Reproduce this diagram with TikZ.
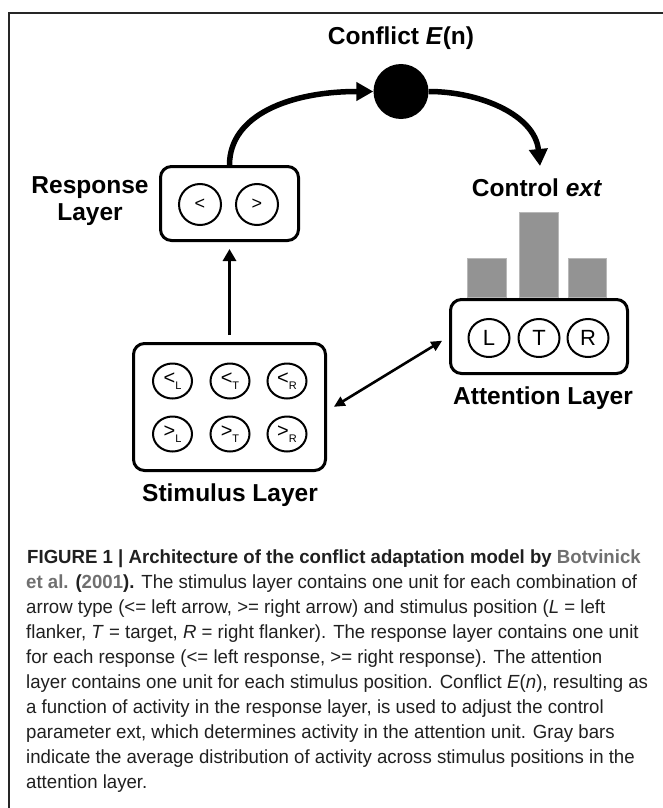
\documentclass[tikz,border=0pt]{standalone}
\usepackage{fontspec}
\setmainfont{Liberation Sans}
\newfontfamily\capfont[FakeStretch=0.98]{Liberation Sans}
\usetikzlibrary{arrows.meta,shapes.geometric}
\definecolor{bargray}{HTML}{939393}
\definecolor{barline}{HTML}{B8B8B8}
\definecolor{refgray}{HTML}{707070}
\definecolor{captext}{HTML}{202020}
\begin{document}
\begin{tikzpicture}[x=1pt,y=-1pt,
  layerbox/.style={draw, line width=3pt, rounded corners=11pt, inner sep=0pt},
  unitell/.style={draw, ellipse, line width=2pt, inner sep=0pt},
  runit/.style={unitell, minimum width=42pt, minimum height=41pt, font=\fontsize{18}{18}\selectfont},
  aunit/.style={unitell, minimum width=41pt, minimum height=38pt, font=\fontsize{22}{22}\selectfont},
  sunit/.style={unitell, minimum width=39pt, minimum height=35pt, font=\fontsize{20}{20}\selectfont},
  lbl/.style={font=\fontsize{24.5}{28}\selectfont\bfseries, align=center, inner sep=0pt},
  bigarrow/.style={line width=5.5pt, -{Triangle[length=17pt,width=18pt]}},
  medarrow/.style={line width=3.3pt, -{Triangle[length=12pt,width=13pt]}, shorten <=7pt, shorten >=7pt},
  dblarrow/.style={line width=2.6pt, {Triangle[length=11pt,width=10pt]}-{Triangle[length=11pt,width=10pt]}, shorten <=8pt, shorten >=8pt},
  bar/.style={fill=bargray, draw=barline, line width=0.8pt},
  capline/.style={anchor=base west, inner sep=0pt, font=\capfont\fontsize{19}{25}\selectfont, text=captext}
]
\useasboundingbox (0,0) rectangle (662,808);
% frame
\draw[line width=2.6pt, color=black!85] (9,812) -- (9,13) -- (666,13);

% conflict
\node[circle, fill=black, minimum size=55pt, inner sep=0pt] (conf) at (401,91.5) {};
\node[lbl] (conflbl) at (401,38) {Conflict \textit{E}(n)};

% response layer
\node[layerbox, minimum width=138pt, minimum height=74pt] (resp) at (229.5,203.5) {};
\node[runit] (rl) at (200,204.5) {<};
\node[runit] (rr) at (257,204.5) {>};
\node[lbl] (resplbl) at (90,201) {Response\\[-1pt]Layer};

% control label and bars
\node[lbl] (ctrllbl) at (537,188) {Control \textit{ext}};
\draw[bar] (467,258) rectangle (506,297);
\draw[bar] (519,212) rectangle (558,297);
\draw[bar] (568,258) rectangle (606,297);

% attention layer
\node[layerbox, fill=white, minimum width=177pt, minimum height=74pt] (att) at (539,336.5) {};
\node[aunit] (al) at (489,338) {L};
\node[aunit] (at) at (539,338) {T};
\node[aunit] (ar) at (588,338) {R};
\node[lbl] (attlbl) at (543,398) {Attention Layer};

% stimulus layer
\node[layerbox, minimum width=192pt, minimum height=127pt] (stim) at (229.5,407) {};
\newcommand{\sub}[1]{\raisebox{-5pt}{\fontsize{11}{11}\selectfont #1}}
\node[sunit] (s1) at (172.5,381) {<\sub{L}};
\node[sunit] (s2) at (230,381) {<\sub{T}};
\node[sunit] (s3) at (287,381) {<\sub{R}};
\node[sunit] (s4) at (172.5,434) {>\sub{L}};
\node[sunit] (s5) at (230,434) {>\sub{T}};
\node[sunit] (s6) at (287,434) {>\sub{R}};
\node[lbl] (stimlbl) at (230,495) {Stimulus Layer};

% connectors
\coordinate (ctrl) at (540,166);
\draw[bigarrow] (resp.north) .. controls (229.5,115) and (290,91.5) .. (conf.west);
\draw[bigarrow] (conf.east) .. controls (480,91.5) and (535,115) .. (ctrl);
\draw[medarrow] (stim.north) -- (resp.south);
\draw[dblarrow] ([yshift=-4pt]stim.east) -- (att.west);

% caption
\node[capline] (c1) at (27,563) {\bfseries FIGURE 1 | Architecture of the conflict adaptation model by \textcolor{refgray}{Botvinick}};
\node[capline] (c2) at (26,588) {\bfseries\textcolor{refgray}{et al.} (\textcolor{refgray}{2001}).\mdseries{} The stimulus layer contains one unit for each combination of};
\node[capline] (c3) at (26,613) {arrow type (<= left arrow, >= right arrow) and stimulus position (\textit{L} = left};
\node[capline] (c4) at (26,638) {flanker, \textit{T} = target, \textit{R} = right flanker). The response layer contains one unit};
\node[capline] (c5) at (26,663) {for each response (<= left response, >= right response). The attention};
\node[capline] (c6) at (26,688) {layer contains one unit for each stimulus position. Conflict \textit{E}(\textit{n}), resulting as};
\node[capline] (c7) at (26,713) {a function of activity in the response layer, is used to adjust the control};
\node[capline] (c8) at (26,738) {parameter ext, which determines activity in the attention unit. Gray bars};
\node[capline] (c9) at (26,763) {indicate the average distribution of activity across stimulus positions in the};
\node[capline] (c10) at (26,788) {attention layer.};
\end{tikzpicture}
\end{document}
